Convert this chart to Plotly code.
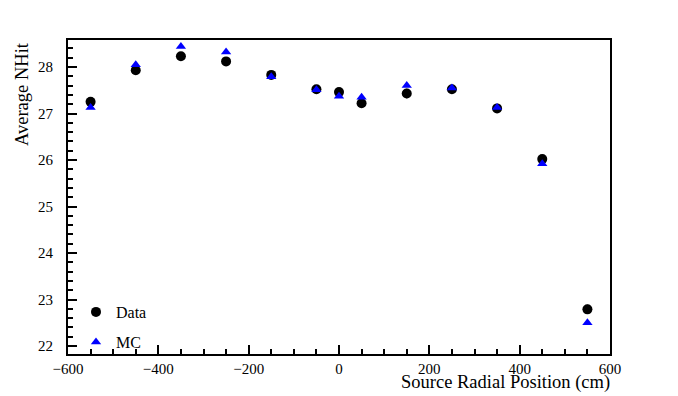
import plotly.graph_objects as go

positions = [-550, -450, -350, -250, -150, -50, 0, 50, 150, 250, 350, 450, 550]
data_nhit = [27.25, 27.93, 28.23, 28.12, 27.83, 27.52, 27.46, 27.22, 27.43, 27.52, 27.11, 26.02, 22.79]
data_err = [0.06, 0.09, 0.06, 0.06, 0.06, 0.06, 0.06, 0.06, 0.10, 0.06, 0.06, 0.07, 0.10]
mc_nhit = [27.13, 28.05, 28.44, 28.32, 27.79, 27.51, 27.37, 27.35, 27.60, 27.55, 27.13, 25.92, 22.50]

font_family = "Liberation Serif, Times New Roman, serif"

# page body has an 8px margin, so the figure is drawn 8px in from the window edge
W, H = 670, 388
l, r, t, b = 60, 68, 32, 42
pw, ph = W - l - r, H - t - b

fig = go.Figure()
fig.add_trace(go.Scatter(
    x=positions, y=data_nhit, mode="markers", name="Data", legend="legend",
    marker=dict(symbol="circle", size=10, color="black"),
    error_y=dict(type="data", array=data_err, color="black", thickness=1.5, width=0),
))
fig.add_trace(go.Scatter(
    x=positions, y=mc_nhit, mode="markers", name="MC", legend="legend2",
    marker=dict(symbol="triangle-up", size=9, color="blue"),
))

leg_common = dict(xanchor="left", yanchor="middle", bgcolor="rgba(0,0,0,0)",
                  font=dict(size=16, family=font_family), itemsizing="trace")

fig.update_layout(
    width=W, height=H,
    margin=dict(l=l, r=r, t=t, b=b, autoexpand=False),
    paper_bgcolor="white", plot_bgcolor="white",
    font=dict(family=font_family, size=15, color="black"),
    showlegend=True,
    legend=dict(x=(76 - 68) / pw, y=(346 - 304) / ph, **leg_common),
    legend2=dict(x=(76 - 68) / pw, y=(346 - 334) / ph, **leg_common),
    xaxis=dict(range=[-600, 600], showgrid=False, zeroline=False, automargin=False,
               showline=True, linecolor="black", linewidth=2, mirror=True,
               ticks="inside", ticklen=9, tickwidth=1.5, tickcolor="black",
               dtick=200, tick0=0, ticklabelstandoff=0,
               minor=dict(ticks="inside", ticklen=5, dtick=50, tick0=0, tickcolor="black", tickwidth=1.5, showgrid=False),
               tickfont=dict(size=15, family=font_family)),
    yaxis=dict(range=[21.83, 28.58], showgrid=False, zeroline=False, automargin=False,
               showline=True, linecolor="black", linewidth=2, mirror=True,
               ticks="inside", ticklen=9, tickwidth=1.5, tickcolor="black",
               dtick=1, tick0=0, ticklabelstandoff=10,
               minor=dict(ticks="inside", ticklen=5, dtick=0.2, tick0=0, tickcolor="black", tickwidth=1.5, showgrid=False),
               tickfont=dict(size=15, family=font_family)),
)

fig.add_annotation(text="Source Radial Position (cm)", xref="paper", yref="paper",
                   x=1.0 + 2 / pw, y=-(374 - (H - b)) / ph, xanchor="right", yanchor="middle",
                   showarrow=False, font=dict(size=18.5, family=font_family))
fig.add_annotation(text="Average NHit", textangle=-90, xref="paper", yref="paper",
                   x=(14 - l) / pw, y=1.0, xanchor="center", yanchor="top",
                   showarrow=False, font=dict(size=18.5, family=font_family))

fig.write_html("out.html")
